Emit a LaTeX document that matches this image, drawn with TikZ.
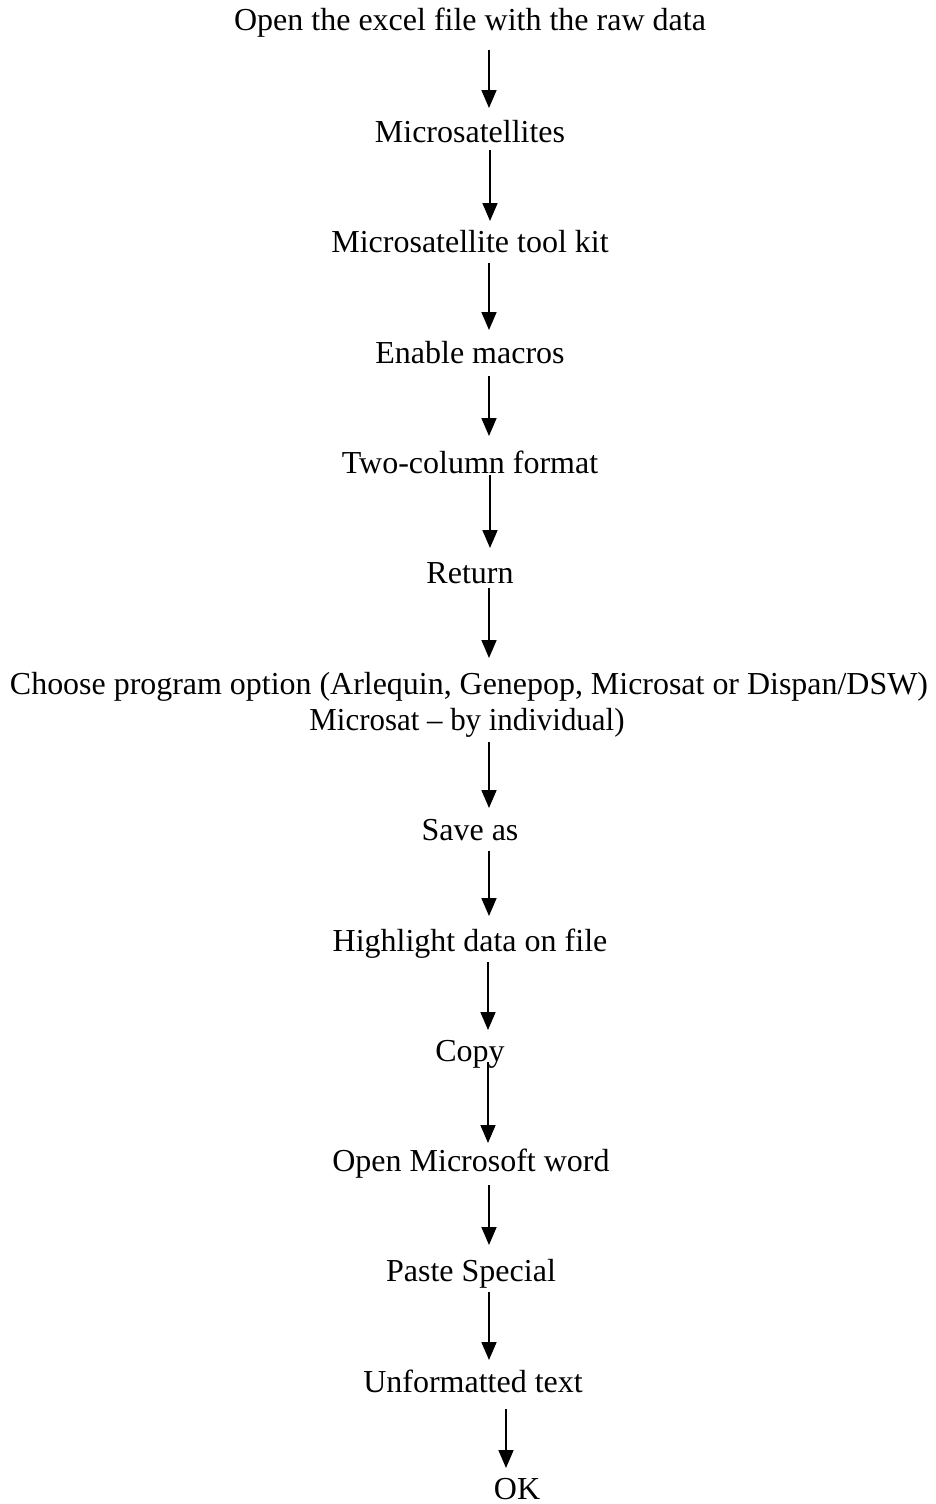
\documentclass[tikz,border=0pt]{standalone}
\usepackage{fontspec}
\setmainfont{Liberation Serif}
\usetikzlibrary{arrows.meta}
\begin{document}
\begin{tikzpicture}[x=1pt,y=-1pt,
  txt/.style={anchor=base,inner sep=0pt,font=\fontsize{32}{38}\selectfont},
  arr/.style={line width=1.7pt,-{Triangle[width=15pt,length=18pt]}}]
\useasboundingbox[fill=white] (0,0) rectangle (936,1504);
\node[txt] (n1) at (470,31) {Open the excel file with the raw data};
\node[txt] (n2) at (470,142) {Microsatellites};
\node[txt] (n3) at (470,252) {Microsatellite tool kit};
\node[txt] (n4) at (470,363) {Enable macros};
\node[txt] (n5) at (470,473) {Two-column format};
\node[txt] (n6) at (470,583) {Return};
\node[txt] (n7a) at (469,694) {\resizebox{918pt}{\height}{Choose program option (Arlequin, Genepop, Microsat or Dispan/DSW)}};
\node[txt] (n7b) at (467,730) {\resizebox{315pt}{\height}{Microsat -- by individual)}};
\node[txt] (n8) at (470,840) {Save as};
\node[txt] (n9) at (470,951) {Highlight data on file};
\node[txt] (n10) at (470,1061) {Copy};
\node[txt] (n11) at (471,1171) {Open Microsoft word};
\node[txt] (n12) at (471,1281) {Paste Special};
\node[txt] (n13) at (473,1392) {Unformatted text};
\node[txt] (n14) at (517,1499) {OK};
\draw[arr] ([shift={(19,19)}]n1.base) -- ([shift={(19,-34)}]n2.base);
\draw[arr] ([shift={(20,8)}]n2.base) -- ([shift={(20,-31)}]n3.base);
\draw[arr] ([shift={(19,11)}]n3.base) -- ([shift={(19,-33)}]n4.base);
\draw[arr] ([shift={(19,13)}]n4.base) -- ([shift={(19,-37)}]n5.base);
\draw[arr] ([shift={(20,2)}]n5.base) -- ([shift={(20,-35)}]n6.base);
\draw[arr] ([shift={(19,5)}]n6.base) -- ([shift={(20,-36)}]n7a.base);
\draw[arr] ([shift={(22,12)}]n7b.base) -- ([shift={(19,-32)}]n8.base);
\draw[arr] ([shift={(19,11)}]n8.base) -- ([shift={(19,-35)}]n9.base);
\draw[arr] ([shift={(18,11)}]n9.base) -- ([shift={(18,-31)}]n10.base);
\draw[arr] ([shift={(18,1)}]n10.base) -- ([shift={(17,-28)}]n11.base);
\draw[arr] ([shift={(18,14)}]n11.base) -- ([shift={(18,-36)}]n12.base);
\draw[arr] ([shift={(18,11)}]n12.base) -- ([shift={(16,-32)}]n13.base);
\draw[arr] ([shift={(33,17)}]n13.base) -- ([shift={(-11,-31)}]n14.base);
\end{tikzpicture}
\end{document}
